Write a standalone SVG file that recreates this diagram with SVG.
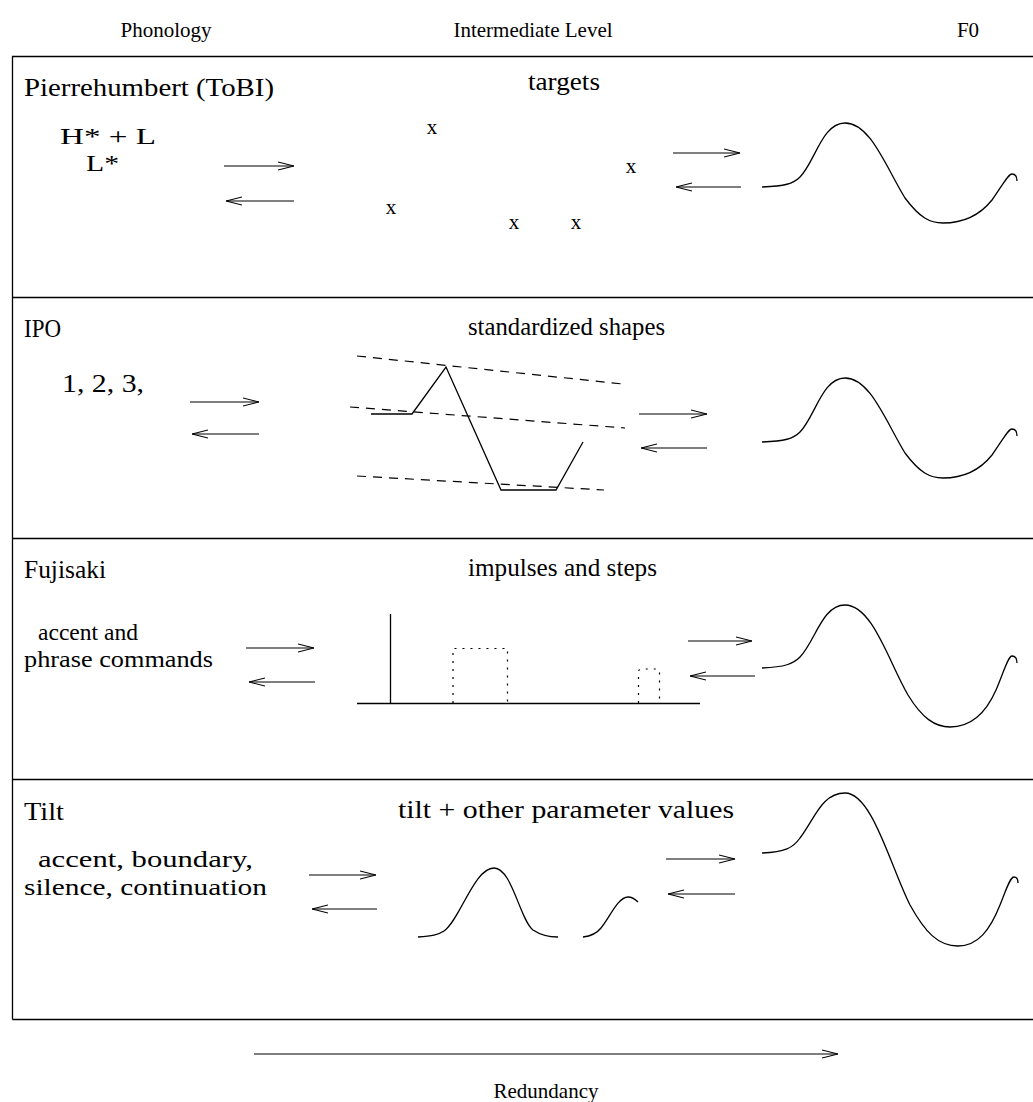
<svg xmlns="http://www.w3.org/2000/svg" width="1033" height="1102" viewBox="0 0 1033 1102">
<style>
text{font-family:"Liberation Serif","Times New Roman",serif;font-size:21px;fill:#000}
.b{font-size:26px}
.s{font-size:23px}
.c{text-anchor:middle}
.ln{stroke:#000;stroke-width:1.3;fill:none}
.ar{stroke:#000;stroke-width:1.2;fill:none;marker-end:url(#ah)}
.dash{stroke:#000;stroke-width:1.2;fill:none;stroke-dasharray:9,7}
.dot{stroke:#000;stroke-width:1.2;fill:none;stroke-dasharray:2,6}
</style>
<defs>
<marker id="ah" markerUnits="userSpaceOnUse" viewBox="0 0 16 10" refX="16" refY="5" markerWidth="16" markerHeight="10" orient="auto">
<path d="M0,1 L16,5 L0,9" fill="none" stroke="#000" stroke-width="1.2"/>
</marker>
<path id="f0" class="ln" d="M762,187 C785,186 793,184 800,177 C815,162 822,123 845,123 C870,123 885,165 905,198 C920,218 930,223 943,223 C965,223 980,215 992,200 C1002,186 1008,174 1012,174 C1016,174 1017,178 1017,181"/>
</defs>
<rect width="1033" height="1102" fill="#fff"/>
<g id="headers">
<text x="166" y="37" class="c">Phonology</text>
<text x="533" y="37" class="c">Intermediate Level</text>
<text x="968" y="37" class="c">F0</text>
</g>
<g id="frame">
<path class="ln" d="M12.5,1019.5 V56.5 H1033 M12.5,1019.5 H1033 M12.5,297.5 H1033 M12.5,538.5 H1033 M12.5,779.5 H1033"/>
</g>
<g id="pierrehumbert">
<text class="b" x="24" y="96" textLength="250" lengthAdjust="spacingAndGlyphs">Pierrehumbert (ToBI)</text>
<text class="b" x="528" y="90" textLength="72" lengthAdjust="spacingAndGlyphs">targets</text>
<text class="s" x="60" y="144" textLength="96" lengthAdjust="spacingAndGlyphs">H* + L</text>
<text class="s" x="86" y="171" textLength="33" lengthAdjust="spacingAndGlyphs">L*</text>
<text x="432" y="134" class="c">x</text>
<text x="391" y="214" class="c">x</text>
<text x="514" y="229" class="c">x</text>
<text x="576" y="229" class="c">x</text>
<text x="631" y="173" class="c">x</text>
<use href="#f0"/>
</g>
<g id="ipo">
<text class="b" x="24" y="337" textLength="37" lengthAdjust="spacingAndGlyphs">IPO</text>
<text class="b" x="468" y="335" textLength="197" lengthAdjust="spacingAndGlyphs">standardized shapes</text>
<text class="b" x="62" y="392" textLength="82" lengthAdjust="spacingAndGlyphs">1, 2, 3,</text>
<path class="dash" d="M357,356 L623,384 M350,407 L625,428 M357,476 L604,490"/>
<path class="ln" d="M371,414 L412,414 L446,367 L501,490 L556,490 L583,442"/>
<use href="#f0" transform="translate(0,255)"/>
</g>
<g id="fujisaki">
<text class="b" x="24" y="578" textLength="82" lengthAdjust="spacingAndGlyphs">Fujisaki</text>
<text class="b" x="468" y="576" textLength="189" lengthAdjust="spacingAndGlyphs">impulses and steps</text>
<text class="s" x="38" y="640" textLength="100" lengthAdjust="spacingAndGlyphs">accent and</text>
<text class="s" x="24" y="667" textLength="189" lengthAdjust="spacingAndGlyphs">phrase commands</text>
<path class="ln" d="M357,703.5 H700 M390.5,614 V703.5"/>
<path class="dot" d="M453,703 V648.5 H507.5 V703 M638.5,703 V672 Q638.5,669 641.5,669 H656.5 Q659.5,669 659.5,672 V703"/>
<path class="ln" d="M762,668 C785,667 793,664 800,657 C815,642 822,605 845,605 C872,605 888,660 908,695 C922,718 935,727 950,727 C970,727 985,715 996,690 C1003,674 1008,656 1012,656 C1016,656 1017,660 1017,663"/>
</g>
<g id="tilt">
<text class="b" x="24" y="820" textLength="40" lengthAdjust="spacingAndGlyphs">Tilt</text>
<text class="b" x="398" y="818" textLength="336" lengthAdjust="spacingAndGlyphs">tilt + other parameter values</text>
<text class="s" x="38" y="867" textLength="215" lengthAdjust="spacingAndGlyphs">accent, boundary,</text>
<text class="s" x="24" y="895" textLength="243" lengthAdjust="spacingAndGlyphs">silence, continuation</text>
<path class="ln" d="M418,937 C432,936 438,935 444,931 C460,920 474,868 494,868 C512,868 520,920 533,930 C542,936 550,937 558,937"/>
<path class="ln" d="M583,937 C592,936 597,933 601,928 C610,917 618,897 628,897 C632,897 636,900 638,902"/>
<path class="ln" d="M762,853 C785,852 793,848 800,838 C815,818 822,793 845,793 C872,793 890,865 910,905 C925,932 938,946 958,946 C978,946 990,930 1000,905 C1006,890 1010,877 1014,877 C1017,877 1018,880 1018,883"/>
</g>
<g id="connectors">
<path class="ar" d="M224,166 H294"/>
<path class="ar" d="M294,201 H226"/>
<path class="ar" d="M673,153 H740"/>
<path class="ar" d="M741,187 H676"/>
<path class="ar" d="M190,402 H259"/>
<path class="ar" d="M259,434 H192"/>
<path class="ar" d="M639,414 H707"/>
<path class="ar" d="M707,448 H641"/>
<path class="ar" d="M246,648 H314"/>
<path class="ar" d="M315,682 H249"/>
<path class="ar" d="M688,641 H752"/>
<path class="ar" d="M755,676 H690"/>
<path class="ar" d="M309,875 H376"/>
<path class="ar" d="M377,909 H312"/>
<path class="ar" d="M666,859 H735"/>
<path class="ar" d="M735,894 H668"/>
<path class="ar" d="M254,1054 H838"/>
</g>
<g id="footer">
<text x="546" y="1098" class="c">Redundancy</text>
</g>
</svg>
